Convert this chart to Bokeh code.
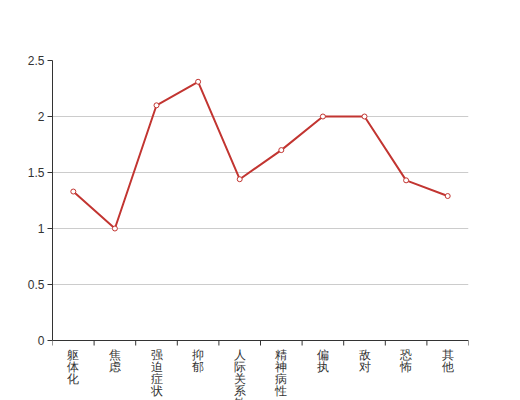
import math
from bokeh.plotting import figure
from bokeh.models import Range1d, FixedTicker, ColumnDataSource, Span
from bokeh.core.properties import value
from bokeh.embed import file_html
from bokeh.resources import INLINE

categories = ["躯体化", "焦虑", "强迫症状", "抑郁", "人际关系敏感", "精神病性", "偏执", "敌对", "恐怖", "其他"]
values = [1.33, 1.0, 2.1, 2.31, 1.44, 1.7, 2.0, 2.0, 1.43, 1.29]
y_ticks = [0, 0.5, 1, 1.5, 2, 2.5]
y_tick_labels = ["0", "0.5", "1", "1.5", "2", "2.5"]

FONT = "sans-serif"
Y_MAX = 2.5
FRAME_H = 280   # pixel height of the value area
LABEL_H = 60    # pixel room below the value area for category labels

xs = [i + 0.5 for i in range(len(categories))]
boundaries = list(range(len(categories) + 1))
y_start = -Y_MAX * LABEL_H / FRAME_H

p = figure(width=520, height=400, output_backend="svg", toolbar_location=None,
           x_range=Range1d(0, len(categories)), y_range=Range1d(y_start, Y_MAX),
           x_axis_type=None, min_border_left=52, min_border_right=52,
           min_border_top=60, min_border_bottom=0)
p.outline_line_color = None
p.xgrid.visible = False
p.ygrid.grid_line_color = "#cccccc"
p.ygrid.ticker = FixedTicker(ticks=y_ticks)
p.ygrid.bounds = (0, Y_MAX)

ya = p.yaxis[0]
ya.ticker = FixedTicker(ticks=y_ticks)
ya.bounds = (0, Y_MAX)
ya.major_label_overrides = {t: l for t, l in zip(y_ticks, y_tick_labels)}
ya.axis_line_color = "#333333"
ya.major_tick_line_color = "#333333"
ya.major_tick_out = 5
ya.major_tick_in = 0
ya.minor_tick_line_color = None
ya.major_label_standoff = 3
ya.major_label_text_font = FONT
ya.major_label_text_font_size = "12px"
ya.major_label_text_color = "#333333"

# category axis line and boundary ticks
p.add_layout(Span(location=0, dimension="width", line_color="#333333", line_width=1))
p.ray(x=boundaries, y=[0] * len(boundaries), length=5, length_units="screen",
      angle=-math.pi / 2, line_color="#333333", line_width=1)

# category labels, written vertically
p.text(x=xs, y=[0] * len(xs), text=["\n".join(c) for c in categories],
       y_offset=7, text_align="center", text_baseline="top",
       text_font=value(FONT), text_font_size="12px", text_color="#333333",
       text_line_height=0.86)

src = ColumnDataSource(dict(x=xs, y=values))
p.line("x", "y", source=src, line_color="#c23531", line_width=2)
p.scatter("x", "y", source=src, size=5, fill_color="white", line_color="#c23531", line_width=1)

open("out.html", "w").write(file_html(p, INLINE))
